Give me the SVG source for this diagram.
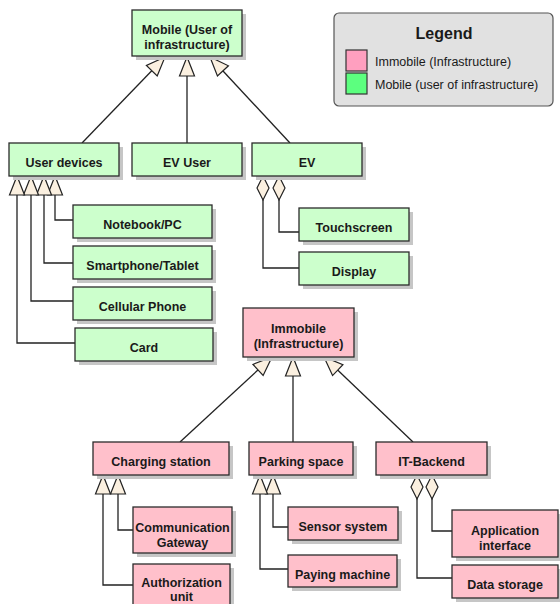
<svg xmlns="http://www.w3.org/2000/svg" width="560" height="604" viewBox="0 0 560 604">
<style>
.n rect.b{stroke:#2b2b2b;stroke-width:1.3}
.g rect.b{fill:#ccffcc}
.p rect.b{fill:#ffc0cb}
rect.s{fill:#c6c6c6}
text{font-family:"Liberation Sans",Arial,sans-serif;font-size:12.5px;font-weight:bold;fill:#1a1a1a;text-anchor:middle}
.c path{fill:none;stroke:#222;stroke-width:1.3}
.lg text{font-weight:normal;text-anchor:start;font-size:12.5px}
</style>
<defs>
<marker id="tri" markerUnits="userSpaceOnUse" orient="auto" overflow="visible" refX="0" refY="0" markerWidth="20" markerHeight="16">
<path d="M0,0 L-19,-7.5 L-19,7.5 Z" fill="#fbf0e0" stroke="#222" stroke-width="1.2"/>
</marker>
<marker id="dia" markerUnits="userSpaceOnUse" orient="auto" overflow="visible" refX="0" refY="0" markerWidth="24" markerHeight="12">
<path d="M0,0 L12,-6 L24,0 L12,6 Z" fill="#fbf0e0" stroke="#222" stroke-width="1.2"/>
</marker>
</defs>
<rect width="560" height="604" fill="#ffffff"/>

<g id="legend" class="lg">
<rect x="334" y="13" width="219" height="93" rx="5" fill="#e1e1e1" stroke="#555" stroke-width="1.2"/>
<text x="444" y="39" style="font-weight:bold;font-size:16px;text-anchor:middle">Legend</text>
<rect x="346" y="50" width="21" height="21" fill="#ff9fbf" stroke="#333" stroke-width="1.2"/>
<rect x="346" y="73" width="21" height="21" fill="#5cff7f" stroke="#333" stroke-width="1.2"/>
<text x="375" y="66">Immobile (Infrastructure)</text>
<text x="375" y="89">Mobile (user of infrastructure)</text>
</g>

<g id="connectors" class="c">
<path d="M82,143 L165,57" marker-end="url(#tri)"/>
<path d="M187,143 L187,57" marker-end="url(#tri)"/>
<path d="M290,143 L210,57" marker-end="url(#tri)"/>
<path d="M73,220 H55 V176" marker-end="url(#tri)"/>
<path d="M73,263 H44 V176" marker-end="url(#tri)"/>
<path d="M73,301 H31 V176" marker-end="url(#tri)"/>
<path d="M75,343 H17 V176" marker-end="url(#tri)"/>
<path d="M279,176 V232 H299" marker-start="url(#dia)"/>
<path d="M263,176 V268 H299" marker-start="url(#dia)"/>
<path d="M180,442 L272,357" marker-end="url(#tri)"/>
<path d="M293,442 L293,357" marker-end="url(#tri)"/>
<path d="M413,442 L324,357" marker-end="url(#tri)"/>
<path d="M133,530 H118 V475" marker-end="url(#tri)"/>
<path d="M133,585 H103 V475" marker-end="url(#tri)"/>
<path d="M288,527 H273 V475" marker-end="url(#tri)"/>
<path d="M288,569 H260 V475" marker-end="url(#tri)"/>
<path d="M432,475 V531 H452" marker-start="url(#dia)"/>
<path d="M417,475 V578 H452" marker-start="url(#dia)"/>
</g>

<g id="mobile" class="n g"><rect class="s" x="136" y="14" width="110" height="46"/><rect class="b" x="132" y="10" width="110" height="46"/><text x="187" y="34">Mobile (User of</text><text x="187" y="49">infrastructure)</text></g>
<g id="user-devices" class="n g"><rect class="s" x="13" y="147" width="110" height="33"/><rect class="b" x="9" y="143" width="110" height="33"/><text x="64" y="167">User devices</text></g>
<g id="ev-user" class="n g"><rect class="s" x="136" y="147" width="110" height="33"/><rect class="b" x="132" y="143" width="110" height="33"/><text x="187" y="167">EV User</text></g>
<g id="ev" class="n g"><rect class="s" x="256" y="147" width="110" height="33"/><rect class="b" x="252" y="143" width="110" height="33"/><text x="307" y="167">EV</text></g>
<g id="notebook" class="n g"><rect class="s" x="77" y="209" width="139" height="33"/><rect class="b" x="73" y="205" width="139" height="33"/><text x="142.500" y="229">Notebook/PC</text></g>
<g id="smartphone" class="n g"><rect class="s" x="77" y="250" width="139" height="33"/><rect class="b" x="73" y="246" width="139" height="33"/><text x="142.500" y="270">Smartphone/Tablet</text></g>
<g id="cellular" class="n g"><rect class="s" x="77" y="291" width="139" height="33"/><rect class="b" x="73" y="287" width="139" height="33"/><text x="142.500" y="311">Cellular Phone</text></g>
<g id="card" class="n g"><rect class="s" x="79" y="332" width="138" height="33"/><rect class="b" x="75" y="328" width="138" height="33"/><text x="144" y="352">Card</text></g>
<g id="touchscreen" class="n g"><rect class="s" x="303" y="212" width="110" height="33"/><rect class="b" x="299" y="208" width="110" height="33"/><text x="354" y="232">Touchscreen</text></g>
<g id="display" class="n g"><rect class="s" x="303" y="256" width="110" height="33"/><rect class="b" x="299" y="252" width="110" height="33"/><text x="354" y="276">Display</text></g>

<g id="immobile" class="n p"><rect class="s" x="247" y="312" width="111" height="49"/><rect class="b" x="243" y="308" width="111" height="49"/><text x="298.500" y="333">Immobile</text><text x="298.500" y="348">(Infrastructure)</text></g>
<g id="charging-station" class="n p"><rect class="s" x="97" y="446" width="136" height="33"/><rect class="b" x="93" y="442" width="136" height="33"/><text x="161" y="466">Charging station</text></g>
<g id="parking-space" class="n p"><rect class="s" x="253" y="446" width="104" height="33"/><rect class="b" x="249" y="442" width="104" height="33"/><text x="301" y="466">Parking space</text></g>
<g id="it-backend" class="n p"><rect class="s" x="380" y="446" width="111" height="33"/><rect class="b" x="376" y="442" width="111" height="33"/><text x="431.500" y="466">IT-Backend</text></g>
<g id="communication-gateway" class="n p"><rect class="s" x="137" y="511" width="99" height="46"/><rect class="b" x="133" y="507" width="99" height="46"/><text x="182.500" y="532">Communication</text><text x="182.500" y="547">Gateway</text></g>
<g id="authorization-unit" class="n p"><rect class="s" x="137" y="568" width="97" height="46"/><rect class="b" x="133" y="564" width="97" height="46"/><text x="181.500" y="587">Authorization</text><text x="181.500" y="601">unit</text></g>
<g id="sensor-system" class="n p"><rect class="s" x="292" y="511" width="110" height="33"/><rect class="b" x="288" y="507" width="110" height="33"/><text x="343" y="531">Sensor system</text></g>
<g id="paying-machine" class="n p"><rect class="s" x="292" y="559" width="109" height="32"/><rect class="b" x="288" y="555" width="109" height="32"/><text x="342.500" y="579">Paying machine</text></g>
<g id="application-interface" class="n p"><rect class="s" x="456" y="514" width="106" height="47"/><rect class="b" x="452" y="510" width="106" height="47"/><text x="505" y="535">Application</text><text x="505" y="550">interface</text></g>
<g id="data-storage" class="n p"><rect class="s" x="456" y="569" width="106" height="33"/><rect class="b" x="452" y="565" width="106" height="33"/><text x="505" y="589">Data storage</text></g>
</svg>
